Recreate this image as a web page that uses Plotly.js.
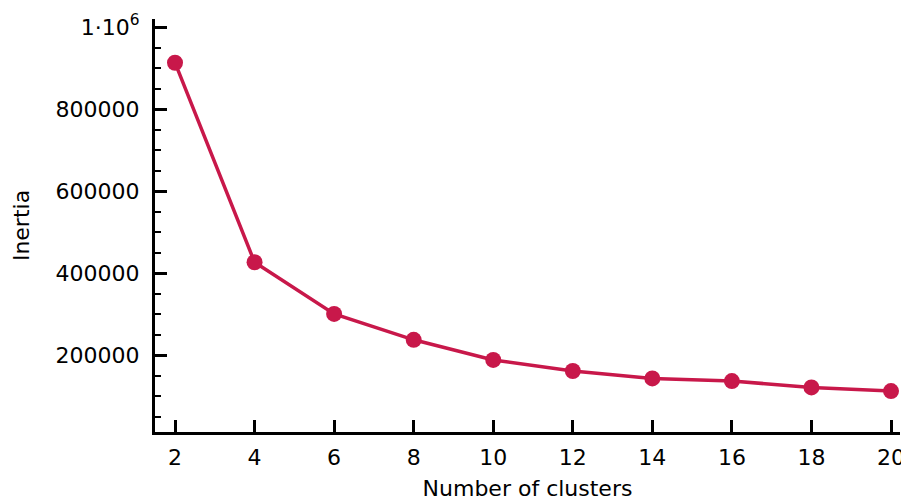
<!DOCTYPE html>
<html>
<head>
<meta charset="utf-8">
<script src="https://cdn.plot.ly/plotly-3.0.1.min.js"></script>
<style>html,body{margin:0;padding:0;background:#fff;}#chart{width:901px;height:501px;}</style>
</head>
<body>
<div id="chart"></div>
<script>
const clusters = [2, 4, 6, 8, 10, 12, 14, 16, 18, 20];
const inertia = [913000, 427000, 301000, 238000, 189000, 162000, 144000, 137500, 122000, 113000];
const yTickVals = [200000, 400000, 600000, 800000, 1000000];
const yTickText = ['200000', '400000', '600000', '800000', '1·10<sup>6</sup>'];
const xTickVals = [2, 4, 6, 8, 10, 12, 14, 16, 18, 20];

const color = '#c8184a';
const font = {family: 'DejaVu Sans, Verdana, sans-serif', size: 22, color: '#000'};

Plotly.newPlot('chart', [{
  x: clusters, y: inertia, type: 'scatter', mode: 'lines+markers',
  line: {color: color, width: 3.5},
  marker: {color: color, size: 16},
  hoverinfo: 'skip'
}], {
  width: 901, height: 501,
  margin: {l: 155, r: 1, t: 19, b: 69},
  paper_bgcolor: '#fff', plot_bgcolor: '#fff',
  font: font,
  showlegend: false,
  xaxis: {
    range: [1.497, 20.226], showgrid: false, zeroline: false,
    showline: true, linecolor: '#000', linewidth: 3,
    ticks: 'inside', ticklen: 12, tickwidth: 3, tickcolor: '#000',
    tickmode: 'array', tickvals: xTickVals,
    tickfont: font, ticklabeloverflow: 'allow', ticklabelstandoff: 4,
    title: {text: 'Number of clusters', font: font, standoff: 16}
  },
  yaxis: {
    range: [13400, 1019500], showgrid: false, zeroline: false,
    showline: true, linecolor: '#000', linewidth: 3,
    ticks: 'inside', ticklen: 12, tickwidth: 3, tickcolor: '#000',
    tickmode: 'array', tickvals: yTickVals, ticktext: yTickText,
    tickfont: font, ticklabeloverflow: 'allow', ticklabelstandoff: 8,
    minor: {ticks: 'inside', ticklen: 6, tickwidth: 2, tickcolor: '#000', tickmode: 'linear', tick0: 0, dtick: 50000, showgrid: false},
    title: {text: 'Inertia', font: font, standoff: 20}
  }
}, {displayModeBar: false, staticPlot: true});
</script>
</body>
</html>
